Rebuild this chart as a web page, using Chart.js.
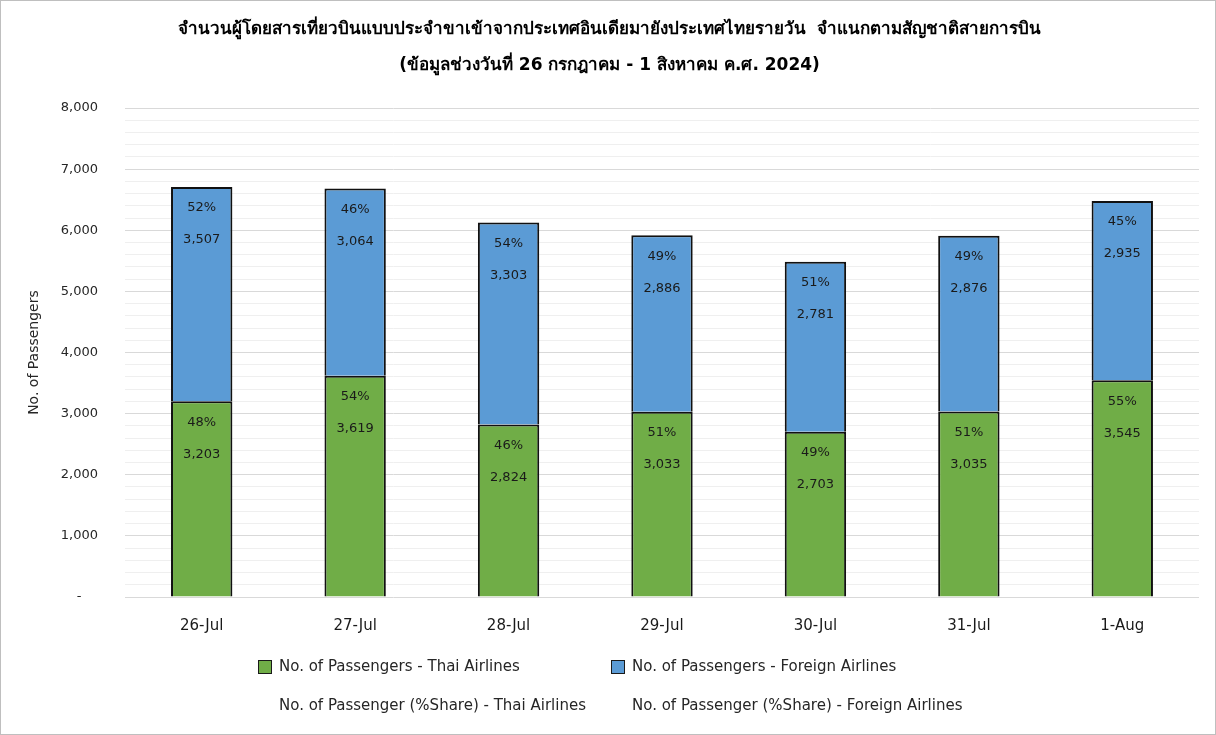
<!DOCTYPE html>
<html>
<head>
<meta charset="utf-8">
<script src="https://cdn.jsdelivr.net/npm/chart.js@4.4.1/dist/chart.umd.min.js"></script>
<style>
    body { margin: 0; background: #fff; }
    #wrap { width: 1216px; height: 735px; box-sizing: border-box; border: 1px solid #bfbfbf; }
    canvas { display: block; }
</style>
</head>
<body>
<div id="wrap"><canvas id="grafico" width="1214" height="733"></canvas></div>
<script>
// dados do grafico
const dias = ["26-Jul", "27-Jul", "28-Jul", "29-Jul", "30-Jul", "31-Jul", "1-Aug"];
const thaiAirlines = [3203, 3619, 2824, 3033, 2703, 3035, 3545];
const foreignAirlines = [3507, 3064, 3303, 2886, 2781, 2876, 2935];
const thaiShare = [48, 54, 46, 51, 49, 51, 55];
const foreignShare = [52, 46, 54, 49, 51, 49, 45];

const tituloLinhas = [
    "จำนวนผู้โดยสารเที่ยวบินแบบประจำขาเข้าจากประเทศอินเดียมายังประเทศไทยรายวัน  จำแนกตามสัญชาติสายการบิน",
    "(ข้อมูลช่วงวันที่ 26 กรกฎาคม - 1 สิงหาคม ค.ศ. 2024)"
];

const legendas = [
    { texto: "No. of Passengers - Thai Airlines", cor: "#70ad47" },
    { texto: "No. of Passengers - Foreign Airlines", cor: "#5b9bd5" },
    { texto: "No. of Passenger (%Share) - Thai Airlines", cor: null },
    { texto: "No. of Passenger (%Share) - Foreign Airlines", cor: null }
];

const fonte = "'DejaVu Sans', Tahoma, sans-serif";

// rotulos dentro das barras (percentual + valor)
const rotulosPlugin = {
    id: "rotulos",
    afterDatasetsDraw(chart) {
        const ctx = chart.ctx;
        const shares = [thaiShare, foreignShare];
        ctx.save();
        ctx.font = "13px " + fonte;
        ctx.fillStyle = "#1a1a1a";
        ctx.textAlign = "center";
        ctx.textBaseline = "middle";
        chart.data.datasets.forEach((ds, i) => {
            const meta = chart.getDatasetMeta(i);
            meta.data.forEach((bar, j) => {
                ctx.fillText(shares[i][j] + "%", bar.x, bar.y + 21);
                ctx.fillText(ds.data[j].toLocaleString("en-US"), bar.x, bar.y + 53);
            });
        });
        ctx.restore();
    }
};

// legenda em duas colunas
const legendaPlugin = {
    id: "legendaCustom",
    afterDraw(chart) {
        const ctx = chart.ctx;
        const area = chart.chartArea;
        const colunas = [area.left + 133, area.left + 486];
        const linhas = [area.bottom + 70, area.bottom + 109];
        ctx.save();
        ctx.font = "15px " + fonte;
        ctx.textBaseline = "middle";
        legendas.forEach((item, k) => {
            const x = colunas[k % 2];
            const y = linhas[Math.floor(k / 2)];
            if (item.cor) {
                ctx.fillStyle = item.cor;
                ctx.fillRect(x, y - 7, 14, 14);
                ctx.strokeStyle = "#1a1a1a";
                ctx.lineWidth = 1;
                ctx.strokeRect(x + 0.5, y - 6.5, 13, 13);
            }
            ctx.fillStyle = "#262626";
            ctx.fillText(item.texto, x + 21, y);
        });
        ctx.restore();
    }
};

const ctx = document.getElementById("grafico").getContext("2d");
new Chart(ctx, {
    type: "bar",
    data: {
        labels: dias,
        datasets: [{
            label: legendas[0].texto,
            data: thaiAirlines,
            backgroundColor: "#70ad47",
            borderColor: "#111",
            borderWidth: 2
        }, {
            label: legendas[1].texto,
            data: foreignAirlines,
            backgroundColor: "#5b9bd5",
            borderColor: "#111",
            borderWidth: 2
        }]
    },
    options: {
        responsive: false,
        animation: false,
        datasets: { bar: { barPercentage: 0.4, categoryPercentage: 1.0 } },
        layout: { padding: { left: 19, right: 16, top: 0, bottom: 0 } },
        plugins: {
            legend: { display: false },
            tooltip: { enabled: false },
            title: {
                display: true,
                text: tituloLinhas,
                color: "#000",
                font: { family: fonte, size: 17, weight: "bold", lineHeight: 2.12 },
                padding: { top: 11, bottom: 24 }
            }
        },
        scales: {
            x: {
                stacked: true,
                grid: { display: false, drawTicks: false },
                border: { display: false },
                ticks: { color: "#1a1a1a", font: { family: fonte, size: 15 }, padding: 20 },
                afterFit(scale) { scale.height = 137; }
            },
            y: {
                stacked: true,
                min: 0,
                max: 8000,
                border: { display: false },
                grid: {
                    drawTicks: false,
                    color: c => (c.tick && c.tick.value % 1000 === 0) ? "#d9d9d9" : "#efefef"
                },
                ticks: {
                    stepSize: 200,
                    autoSkip: false,
                    padding: 27,
                    color: "#262626",
                    font: { family: fonte, size: 13 },
                    callback: v => v % 1000 !== 0 ? "" : (v === 0 ? "-    " : v.toLocaleString("en-US"))
                },
                title: {
                    display: true,
                    text: "No. of Passengers",
                    color: "#262626",
                    font: { family: fonte, size: 14 },
                    padding: { top: 6 }
                },
                afterFit(scale) { scale.width = 105; }
            }
        }
    },
    plugins: [rotulosPlugin, legendaPlugin]
});
</script>
</body>
</html>
